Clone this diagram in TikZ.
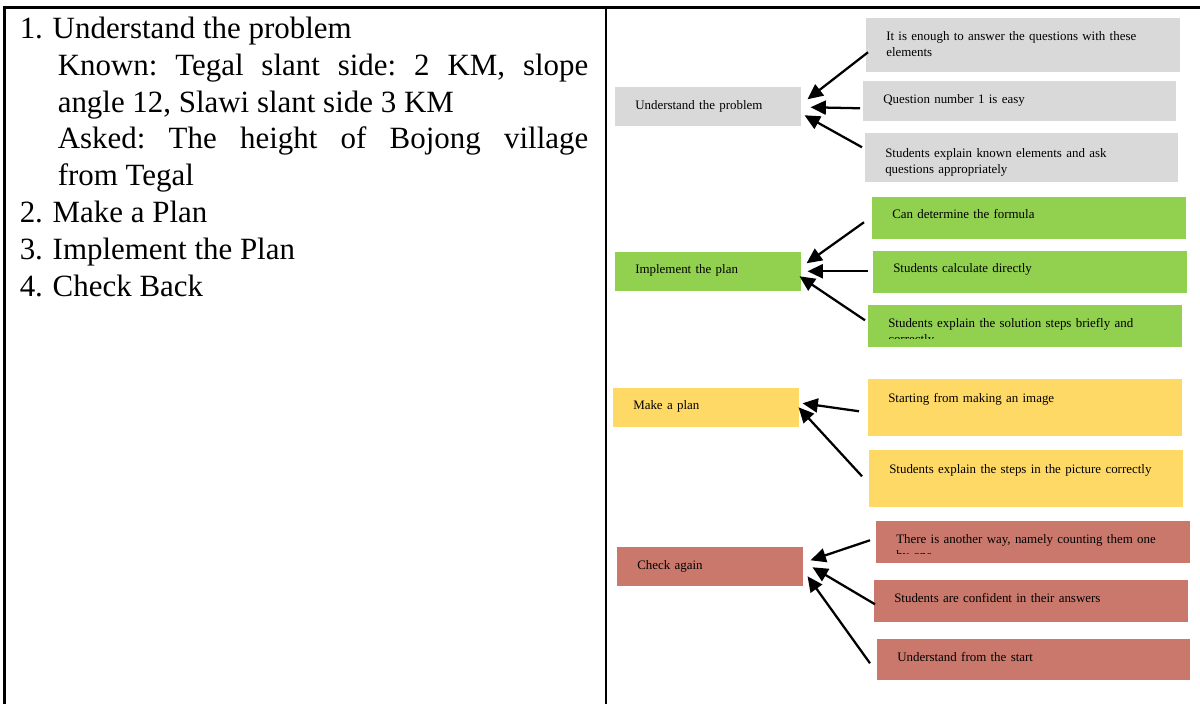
\documentclass[tikz,border=0pt]{standalone}
\usepackage{fontspec}
\setmainfont{Liberation Serif}
\usetikzlibrary{arrows.meta}
\usetikzlibrary{calc}
\definecolor{gris}{RGB}{217,217,217}
\definecolor{vert}{RGB}{146,208,80}
\definecolor{jaune}{RGB}{255,217,102}
\definecolor{rouge}{RGB}{202,120,108}
\frenchspacing
\newcommand{\numero}[1]{\makebox[24.75pt][l]{#1}}

\begin{document}
\begin{tikzpicture}[x=0.75pt,y=-0.75pt]
\tikzstyle{boite}=[anchor=north west,inner xsep=15pt,inner ysep=0pt,text height=16.5pt,text depth=15pt,text width=205.5pt,align=left,font=\fontsize{9.7}{12}\selectfont]
\tikzstyle{etape}=[boite,text width=109.5pt,text depth=12.75pt]
\tikzstyle{fleche}=[-{Triangle[length=11.5pt,width=10.5pt]},line width=1.7pt]
\tikzstyle{trait}=[line width=1.6pt]
\useasboundingbox (0,0) rectangle (1200,704);
%tableau
\draw[trait] (4.5,704) -- (4.5,7.5) -- (1200,7.5);
\draw[trait] (606,7.5) -- (606,704);
\node[anchor=base west,inner sep=0pt,text width=426.4pt,align=justify,font=\fontsize{23.2}{27.6}\selectfont] (liste) at (19.5,38.5) {\numero{1.}Understand the problem\par
{\leftskip=28.5pt Known: Tegal slant side: 2 KM, slope\linebreak angle 12, Slawi slant side 3 KM\par
Asked: The height of Bojong village\linebreak from Tegal\par}
\numero{2.}Make a Plan\par
\numero{3.}Implement the Plan\par
\numero{4.}Check Back};
%comprendre
\node[etape,fill=gris] (comprendre) at (615,87) {Understand the problem};
\node[boite,fill=gris,text depth=24pt] (g1) at (866,18) {It is enough to answer the questions with these\\elements};
\node[boite,fill=gris,text width=204.75pt,text depth=13.5pt] (g2) at (863,81) {Question number 1 is easy};
\node[boite,fill=gris,text width=204.75pt,text height=18pt,text depth=18.75pt] (g3) at (865,133) {Students explain known elements and ask\\questions appropriately};
%executer
\node[etape,fill=vert,text height=15.75pt,text depth=13.5pt] (executer) at (615,252) {Implement the plan};
\node[boite,fill=vert,text height=15.75pt,text depth=15.75pt] (v1) at (872,197) {Can determine the formula};
\node[boite,fill=vert,text height=15.75pt,text depth=15.75pt] (v2) at (873,251) {Students calculate directly};
\node[boite,fill=vert] (v3) at (868,305) {};
\begin{scope}
\clip (v3.north west) rectangle ($(v3.south east)+(0,-9)$);
\node[boite] at (v3.north west) {Students explain the solution steps briefly and\\correctly};
\end{scope}
%planifier
\node[etape,fill=jaune,text height=15.75pt,text depth=13.5pt] (planifier) at (613,388) {Make a plan};
\node[boite,fill=jaune,text height=17.25pt,text depth=25.5pt] (j1) at (868,379) {Starting from making an image};
\node[boite,fill=jaune,text height=17.25pt,text depth=25.5pt] (j2) at (869,450) {Students explain the steps in the picture correctly};
%verifier
\node[etape,fill=rouge] (verifier) at (617,547) {Check again};
\node[boite,fill=rouge] (r1) at (876,521) {};
\begin{scope}
\clip (r1.north west) rectangle ($(r1.south east)+(0,-10.5)$);
\node[boite] at (r1.north west) {There is another way, namely counting them one\\by one};
\end{scope}
\node[boite,fill=rouge] (r2) at (874,580) {Students are confident in their answers};
\node[boite,fill=rouge,text width=204.75pt,text depth=14.25pt] (r3) at (877,639) {Understand from the start};
%fleches
\draw[fleche] ($(g1.west)+(2,7)$) -- ($(comprendre.east)+(6,-7.5)$);
\draw[fleche] ($(g2.west)+(-3,7)$) -- ($(comprendre.east)+(9,0.5)$);
\draw[fleche] ($(g3.west)+(-3,-10.5)$) -- ($(comprendre.east)+(3,8.5)$);
\draw[fleche] ($(v1.west)+(-8,4)$) -- ($(executer.east)+(5,-8.5)$);
\draw[fleche] ($(v2.west)+(-5,-1)$) -- ($(executer.east)+(6,-0.5)$);
\draw[fleche] ($(v3.west)+(-3,-6)$) -- ($(executer.east)+(-2,4.5)$);
\draw[fleche] ($(j1.west)+(-9,3.5)$) -- ($(planifier.east)+(3,-4.5)$);
\draw[fleche] ($(j2.west)+(-7,-2.5)$) -- ($(planifier.east)+(-1,-0.5)$);
\draw[fleche] ($(r1.west)+(-6,-2)$) -- ($(verifier.east)+(7,-6.5)$);
\draw[fleche] ($(r2.west)+(1,3)$) -- ($(verifier.east)+(9,0.5)$);
\draw[fleche] ($(r3.west)+(-7,3.5)$) -- ($(verifier.east)+(4,9.5)$);
\end{tikzpicture}
\end{document}
